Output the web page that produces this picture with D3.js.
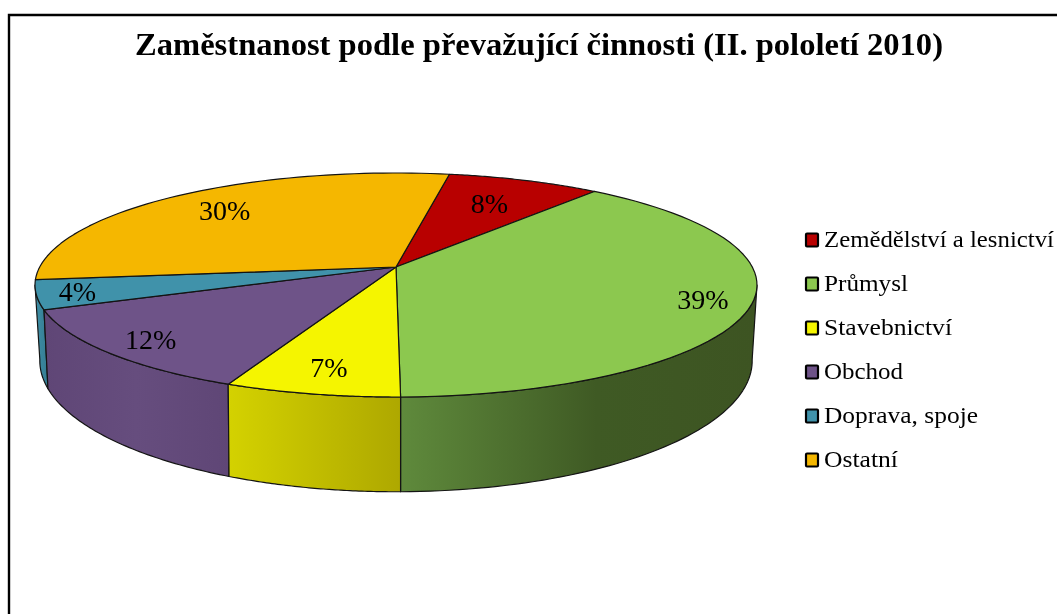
<!DOCTYPE html>
<html><head><meta charset="utf-8">
<script src="https://cdn.jsdelivr.net/npm/d3@7"></script>
<style>html,body{margin:0;padding:0;background:#fff}svg{display:block}text{font-family:"Liberation Serif","Times New Roman",serif;fill:#000}.soft{filter:blur(.4px)}</style>
</head><body><svg id="c" width="1057" height="614"></svg>
<script>
const categories = ["Zemědělství a lesnictví","Průmysl","Stavebnictví","Obchod","Doprava, spoje","Ostatní"];
const shares = [8,39.05,6.75,12.4,4.2,29.6];
const topColors = ["#b80000","#8cc84f","#f5f500","#6e5388","#4092aa","#f5b700"];
const sideStops = [
  [["0","#8a0000"],["1","#8a0000"]],
  [["0","#5f8a3c"],["0.55","#3f5a24"],["1","#3d5422"]],
  [["0","#d4d200"],["1","#aea800"]],
  [["0","#5f4676"],["0.5","#664d7e"],["1","#5f4676"]],
  [["0","#3f8fa6"],["1","#347c92"]],
  [["0","#b88a00"],["1","#b88a00"]]
];
const titleText = "Zaměstnanost podle převažující činnosti (II. pololetí 2010)";
const labelReach = [.70,.87,.82,.865,.89,.764];
const legendWidths = [230,84,128,79,154,74];

const root = d3.select("#c");
const defs = root.append("defs");

// perspective projection of the pie's unit circle onto the page
const cx = 396;
const upper = {k:.1607, rx:356.3, ry:109.1, cy:267};
const lower = {k:.17, rx:351, ry:127.2, cy:338.5};
const project = (p,a,r=1) => {
  const u = Math.sin(a)*r, v = -Math.cos(a)*r, w = 1-p.k*v;
  return [cx+p.rx*u/w, p.cy+p.ry*v/w];
};
const rad = d => d*Math.PI/180;
const arcs = d3.pie().sort(null).startAngle(rad(10)).endAngle(rad(370))(shares);
const line = d3.line();
const rimAngles = (a0,a1) => d3.range(0,61).map(i=>a0+(a1-a0)*i/60);

const silR = Math.PI-Math.acos(upper.k), silL = Math.PI+Math.acos(upper.k);
const outline = "#141414";

// frame
root.append("path").attr("d",line([[9,614],[9,15],[1057,15]])).attr("fill","none").attr("stroke","#000").attr("stroke-width",2.4);

const svg = root.append("g").attr("class","soft");

// side walls
[4,3,1,2].forEach(i=>{
  const d = arcs[i];
  const a0 = Math.max(d.startAngle,silR), a1 = Math.min(d.endAngle,silL);
  if(a1<=a0) return;
  const as = rimAngles(a0,a1);
  const pts = as.map(a=>project(upper,a)).concat(as.slice().reverse().map(a=>project(lower,a)));
  const ext = d3.extent(pts,p=>p[0]);
  const g = defs.append("linearGradient").attr("id","side"+i).attr("gradientUnits","userSpaceOnUse")
    .attr("x1",ext[0]).attr("x2",ext[1]).attr("y1",0).attr("y2",0);
  sideStops[i].forEach(s=>g.append("stop").attr("offset",s[0]).attr("stop-color",s[1]));
  svg.append("path").attr("d",line(pts)+"Z").attr("fill",`url(#side${i})`).attr("stroke",outline).attr("stroke-width",1.2).attr("stroke-linejoin","round");
});

// top faces
arcs.forEach((d,i)=>{
  const pts = [[cx,upper.cy]].concat(rimAngles(d.startAngle,d.endAngle).map(a=>project(upper,a)));
  svg.append("path").attr("d",line(pts)+"Z").attr("fill",topColors[i]).attr("stroke",outline).attr("stroke-width",1.2).attr("stroke-linejoin","round");
});

// value labels
arcs.forEach((d,i)=>{
  const p = project(upper,(d.startAngle+d.endAngle)/2,labelReach[i]);
  svg.append("text").attr("x",p[0]).attr("y",p[1]+9).attr("text-anchor","middle").attr("font-size",28).text(d3.format(".0%")(shares[i]/d3.sum(shares)));
});

// title
svg.append("text").attr("x",135).attr("y",55).attr("font-size",32).attr("font-weight","bold")
  .attr("textLength",808).attr("lengthAdjust","spacingAndGlyphs").text(titleText);

// legend
const ly = d3.scalePoint().domain(categories).range([240,460]);
categories.forEach((c,i)=>{
  svg.append("rect").attr("x",806).attr("y",ly(c)-6.5).attr("width",12).attr("height",13).attr("fill",topColors[i]).attr("stroke","#000").attr("stroke-width",2.2).attr("rx",1);
  svg.append("text").attr("x",824).attr("y",ly(c)+7).attr("font-size",23)
    .attr("textLength",legendWidths[i]).attr("lengthAdjust","spacingAndGlyphs").text(c);
});
</script></body></html>
